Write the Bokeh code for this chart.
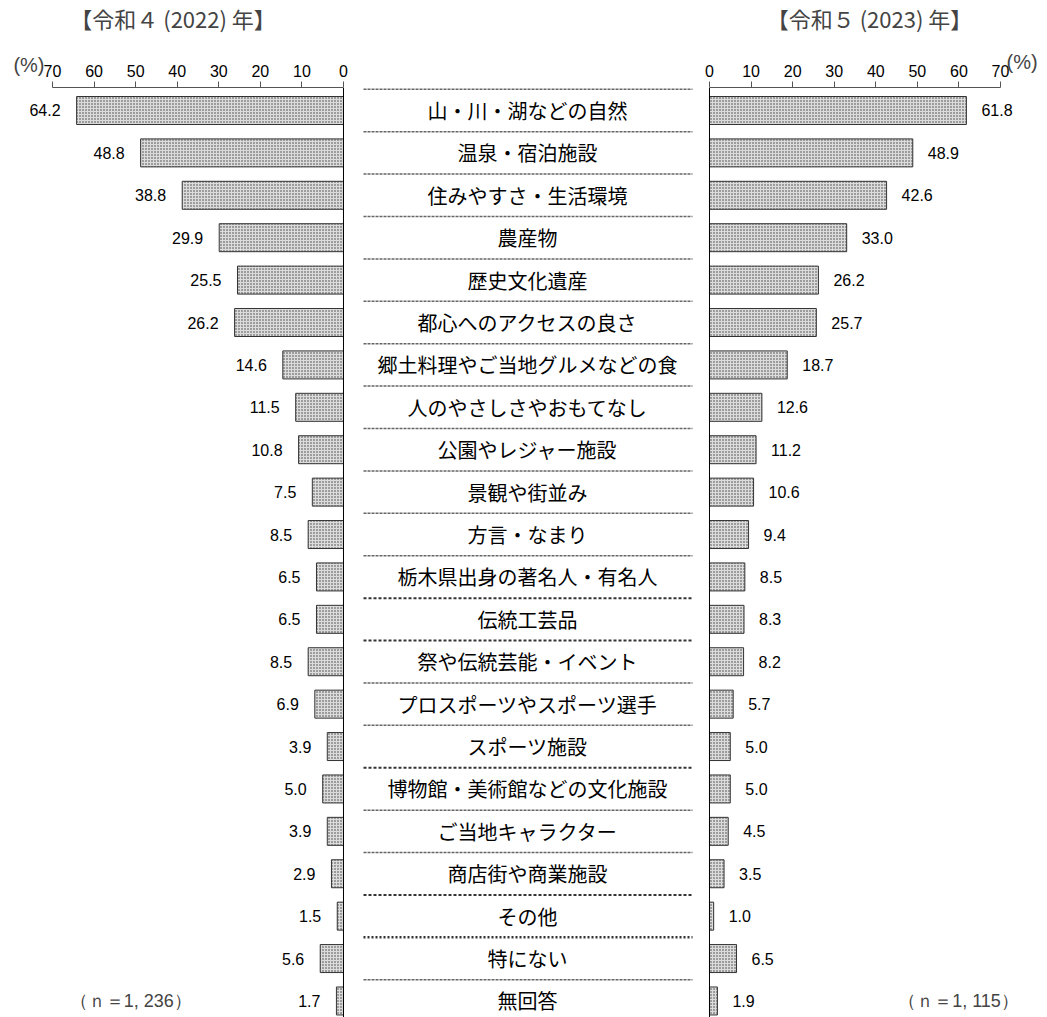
from bokeh.plotting import figure
from bokeh.models import Range1d, FixedTicker, Label, ColumnDataSource
from bokeh.layouts import row
from bokeh.embed import file_html
from bokeh.resources import INLINE
from bokeh.core.properties import value

categories = [
    "山・川・湖などの自然", "温泉・宿泊施設", "住みやすさ・生活環境", "農産物", "歴史文化遺産",
    "都心へのアクセスの良さ", "郷土料理やご当地グルメなどの食", "人のやさしさやおもてなし",
    "公園やレジャー施設", "景観や街並み", "方言・なまり", "栃木県出身の著名人・有名人",
    "伝統工芸品", "祭や伝統芸能・イベント", "プロスポーツやスポーツ選手", "スポーツ施設",
    "博物館・美術館などの文化施設", "ご当地キャラクター", "商店街や商業施設", "その他",
    "特にない", "無回答",
]
values_2022 = [64.2, 48.8, 38.8, 29.9, 25.5, 26.2, 14.6, 11.5, 10.8, 7.5, 8.5, 6.5,
               6.5, 8.5, 6.9, 3.9, 5.0, 3.9, 2.9, 1.5, 5.6, 1.7]
values_2023 = [61.8, 48.9, 42.6, 33.0, 26.2, 25.7, 18.7, 12.6, 11.2, 10.6, 9.4, 8.5,
               8.3, 8.2, 5.7, 5.0, 5.0, 4.5, 3.5, 1.0, 6.5, 1.9]
tick_values = [0, 10, 20, 30, 40, 50, 60, 70]
title_2022 = "【令和４ (2022) 年】"
title_2023 = "【令和５ (2023) 年】"
n_2022 = "（ｎ＝1, 236）"
n_2023 = "（ｎ＝1, 115）"
unit_label = "(%)"

N = len(categories)
idx = list(range(N))
JP = "Noto Sans CJK JP"
NUM = "Liberation Sans"
H = 1017
Y_TOP, Y_BOTTOM = -2.594, 21.39
AXIS_Y = -0.531

def base(width, xr, above_axis):
    p = figure(width=width, height=H, x_range=xr, y_range=Range1d(Y_BOTTOM, Y_TOP),
               output_backend="svg", toolbar_location=None,
               x_axis_location="above" if above_axis else None,
               y_axis_location=None,
               min_border_left=0, min_border_right=0, min_border_top=0,
               min_border_bottom=0)
    p.outline_line_color = None
    p.xgrid.visible = False
    p.ygrid.visible = False
    p.background_fill_color = "white"
    p.border_fill_color = "white"
    if above_axis:
        ax = p.xaxis[0]
        ax.fixed_location = AXIS_Y
        ax.ticker = FixedTicker(ticks=tick_values)
        ax.bounds = (0, 70)
        ax.major_tick_in = 0
        ax.major_tick_out = 6
        ax.minor_tick_line_color = None
        ax.axis_line_color = "#555555"
        ax.major_tick_line_color = "#555555"
        ax.major_label_standoff = 5
        ax.major_label_text_font = NUM
        ax.major_label_text_font_size = "16px"
        ax.major_label_text_color = "black"
    return p

bar_style = dict(height=0.66, fill_color="#dcdcdc", hatch_pattern="dot",
                 hatch_color="#3a3a3a", hatch_scale=3.0, hatch_weight=1.6,
                 line_color="#333333", line_width=1)

# Left (2022)
src_l = ColumnDataSource(dict(y=idx, v=values_2022, t=[f"{v:.1f}" for v in values_2022]))
pl = base(352, Range1d(82.51, -2.165), True)
pl.hbar(y="y", right="v", left=0, source=src_l, **bar_style)
pl.text(x="v", y="y", text="t", source=src_l, text_align="right", text_baseline="middle",
        x_offset=-16, text_font=value(NUM), text_font_size="16px", text_color="black")
pl.segment(x0=0, x1=0, y0=AXIS_Y, y1=Y_BOTTOM, line_color="black", line_width=1)
pl.add_layout(Label(x=70, x_offset=-8, y=-1.08, text=unit_label, text_font=NUM,
                    text_font_size="20px", text_align="right", text_baseline="middle"))
pl.add_layout(Label(x=41.0, y=-2.17, text=title_2022, text_font=JP,
                    text_font_size="22px", text_align="center", text_baseline="middle"))
pl.add_layout(Label(x=51.2, y=21.0, text=n_2022, text_font=NUM,
                    text_font_size="18px", text_align="center", text_baseline="middle"))

# Center
pc = base(348, Range1d(352, 700), False)
src_c = ColumnDataSource(dict(y=idx, t=categories))
pc.text(x=527, y="y", text="t", source=src_c, text_align="center", text_baseline="middle",
        text_font=value(JP), text_font_size="20px", text_color="black")
sep_y = [i - 0.5 for i in idx]
sep_dash = ["3 1"] * N
sep_color = ["#666666"] * N
sep_width = [1.5] * N
for k in (12, 13, 16, 19, 20):
    sep_dash[k] = "3 2"
    sep_color[k] = "#333333"
    sep_width[k] = 2.0
sep_dash[20] = "2 2"
sep_width[20] = 2.5
for yy, d, c, w in zip(sep_y, sep_dash, sep_color, sep_width):
    pc.segment(x0=363, x1=692, y0=yy, y1=yy, line_color=c, line_width=w, line_dash=d)

# Right (2023)
src_r = ColumnDataSource(dict(y=idx, v=values_2023, t=[f"{v:.1f}" for v in values_2023]))
pr = base(347, Range1d(-2.165, 81.31), True)
pr.hbar(y="y", right="v", left=0, source=src_r, **bar_style)
pr.text(x="v", y="y", text="t", source=src_r, text_align="left", text_baseline="middle",
        x_offset=15, text_font=value(NUM), text_font_size="16px", text_color="black")
pr.segment(x0=0, x1=0, y0=AXIS_Y, y1=Y_BOTTOM, line_color="black", line_width=1)
pr.add_layout(Label(x=70, x_offset=6, y=-1.15, text=unit_label, text_font=NUM,
                    text_font_size="20px", text_align="left", text_baseline="middle"))
pr.add_layout(Label(x=38.5, y=-2.17, text=title_2023, text_font=JP,
                    text_font_size="22px", text_align="center", text_baseline="middle"))
pr.add_layout(Label(x=59.9, y=21.0, text=n_2023, text_font=NUM,
                    text_font_size="18px", text_align="center", text_baseline="middle"))

layout = row(pl, pc, pr, spacing=0)
open("out.html", "w").write(file_html(layout, INLINE))
